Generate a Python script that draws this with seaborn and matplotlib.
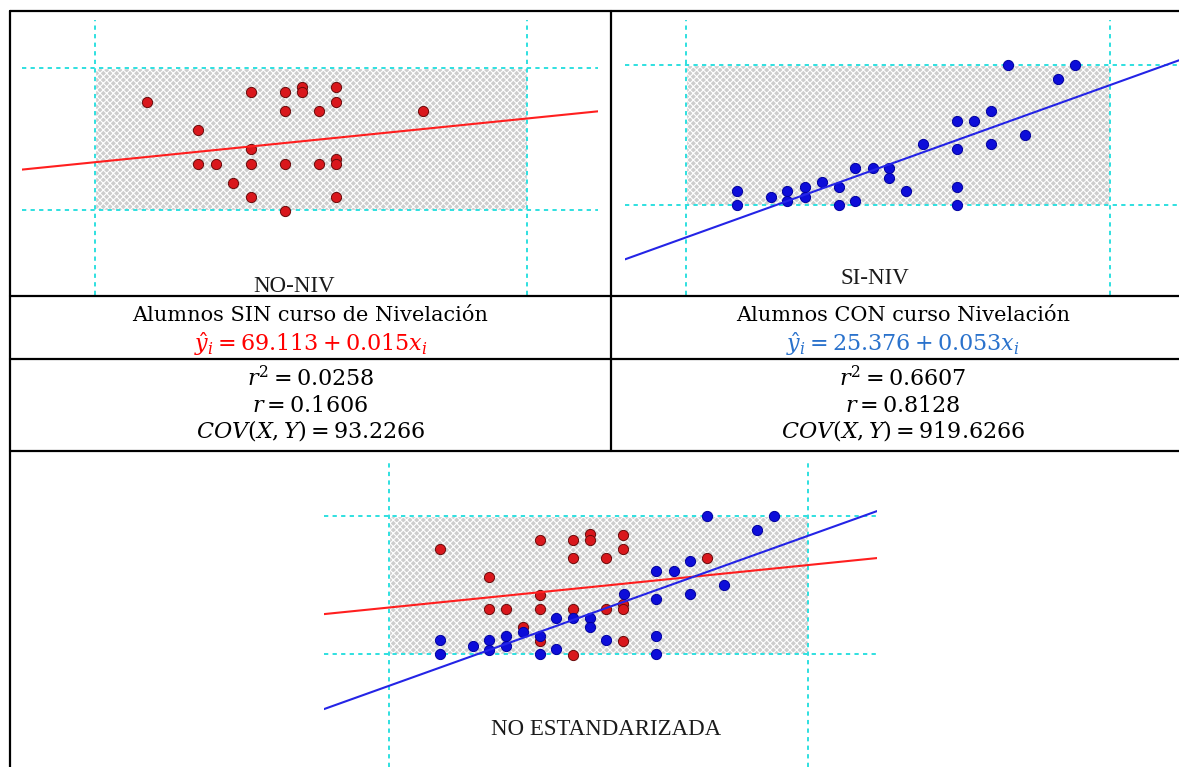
import numpy as np
import matplotlib
matplotlib.use("Agg")
import matplotlib.pyplot as plt
from matplotlib.patches import Rectangle
from matplotlib.lines import Line2D
import seaborn as sns

# puntos (x = puntaje, y = nota)
sin_x = [765, 917, 968, 993, 993, 1043, 1043, 968, 1018, 839, 917, 839, 866, 917,
         968, 1018, 1043, 1043, 891, 917, 1043, 968, 1171]
sin_y = [92.6, 94.7, 94.7, 95.9, 94.7, 95.8, 92.6, 90.6, 90.6, 86.4, 82.3, 79.0, 79.0, 79.0,
         79.0, 79.0, 80.2, 79.0, 75.0, 71.9, 71.9, 68.8, 90.6]

con_x = [765, 765, 815, 840, 840, 866, 866, 892, 917, 917, 942, 942, 968, 993,
         993, 1018, 1044, 1094, 1094, 1094, 1094, 1120, 1145, 1145, 1171, 1197, 1246, 1272]
con_y = [72.1, 69.0, 70.8, 72.1, 69.9, 73.1, 70.8, 74.0, 73.1, 69.0, 77.1, 70.0, 77.1, 77.1,
         75.1, 72.1, 82.5, 87.6, 81.3, 73.1, 69.0, 87.6, 89.8, 82.5, 100.0, 84.5, 96.9, 100.0]

# rectas de regresion (intercepto, pendiente)
sin_fit = (69.113, 0.015)
con_fit = (25.376, 0.053)

# zona sombreada: x0, x1, y0, y1
zona = (688, 1324, 69, 100)

# estadisticos: r^2, r, cov
stats_sin = ["0.0258", "0.1606", "93.2266"]
stats_con = ["0.6607", "0.8128", "919.6266"]

sns.set_style("white")
plt.rcParams["hatch.linewidth"] = 0.8
plt.rcParams["hatch.color"] = "#606060"
plt.rcParams["mathtext.fontset"] = "dejavuserif"

W, H = 1179, 767
fig = plt.figure(figsize=(W / 100, H / 100), dpi=100)


def fx(px):
    return px / W


def fy(py):
    return 1 - py / H


CYAN = "#2fe0e0"
RED, RED_EDGE, RED_LINE = "#d9171c", "#6b0a0a", "#ff1f1f"
BLUE, BLUE_EDGE, BLUE_LINE = "#0d0dd9", "#0000a0", "#2424e6"


def panel(box, xlim, ylim, groups, vtop):
    l, t, r, b = box
    ax = fig.add_axes([fx(l), fy(b), (r - l) / W, (b - t) / H])
    x0, x1, y0, y1 = zona
    ax.add_patch(Rectangle((x0, y0), x1 - x0, y1 - y0, facecolor="#cdcdcd",
                           hatch="xxxxx", zorder=1))
    for v in (x0, x1):
        ax.axvline(v, ymax=vtop, color=CYAN, lw=1.4, ls=(0, (2.2, 2.2)), zorder=2)
    for v in (y0, y1):
        ax.axhline(v, color=CYAN, lw=1.4, ls=(0, (2.2, 2.2)), zorder=2)
    for xs, ys, fc, ec in groups:
        sns.scatterplot(x=xs, y=ys, ax=ax, color=fc, edgecolor=ec, s=54,
                        linewidth=0.7, zorder=3, legend=False)
    xx = np.array(xlim)
    for xs, ys, fc, ec in groups:
        b0, b1 = sin_fit if fc == RED else con_fit
        lc = RED_LINE if fc == RED else BLUE_LINE
        sns.lineplot(x=xx, y=b0 + b1 * xx, ax=ax, color=lc, lw=1.5, zorder=4)
    ax.set_xlim(xlim)
    ax.set_ylim(ylim)
    ax.set_axis_off()
    return ax


panel((22, 13, 598, 295), (580.5, 1428.5), (50.45, 112.0),
      [(sin_x, sin_y, RED, RED_EDGE)], 0.975)
panel((625, 13, 1179, 295), (596.5, 1427.5), (49.1, 111.5),
      [(con_x, con_y, BLUE, BLUE_EDGE)], 0.975)
panel((324, 455, 877, 767), (589.3, 1428.7), (43.6, 113.7),
      [(sin_x, sin_y, RED, RED_EDGE), (con_x, con_y, BLUE, BLUE_EDGE)], 0.985)

lab = dict(ha="center", va="baseline", fontsize=16.5, family="Liberation Serif", color="#1a1a1a")
fig.text(fx(294), fy(292), "NO-NIV", **lab)
fig.text(fx(875), fy(284), "SI-NIV", **lab)
fig.text(fx(606), fy(735), "NO ESTANDARIZADA", **lab)

# tabla
def hline(y, a=10, b=W):
    fig.add_artist(Line2D([fx(a), fx(b)], [fy(y), fy(y)], color="black", lw=1.6))


def vline(x, a, b):
    fig.add_artist(Line2D([fx(x), fx(x)], [fy(a), fy(b)], color="black", lw=1.6))


for y in (11, 296, 359, 451):
    hline(y)
vline(10, 11, H)
vline(611, 11, 451)

txt = dict(ha="center", va="baseline", fontsize=15, family="DejaVu Serif", color="black")
mth = {**txt, "fontsize": 16}
cols = [(310.5, "Alumnos SIN curso de Nivelación", sin_fit, "#ff0000", stats_sin),
        (903, "Alumnos CON curso Nivelación", con_fit, "#2a72cc", stats_con)]
for cx, titulo, fit, col, st in cols:
    fig.text(fx(cx), fy(321), titulo, **txt)
    fig.text(fx(cx), fy(351), r"$\hat{y}_i = %.3f + %.3fx_i$" % fit,
             **{**mth, "color": col})
    fig.text(fx(cx), fy(386), r"$r^2 = %s$" % st[0], **mth)
    fig.text(fx(cx), fy(412), r"$r = %s$" % st[1], **mth)
    fig.text(fx(cx), fy(437), r"$COV(X,Y) = %s$" % st[2], **mth)

fig.savefig("out.png", dpi=100)
